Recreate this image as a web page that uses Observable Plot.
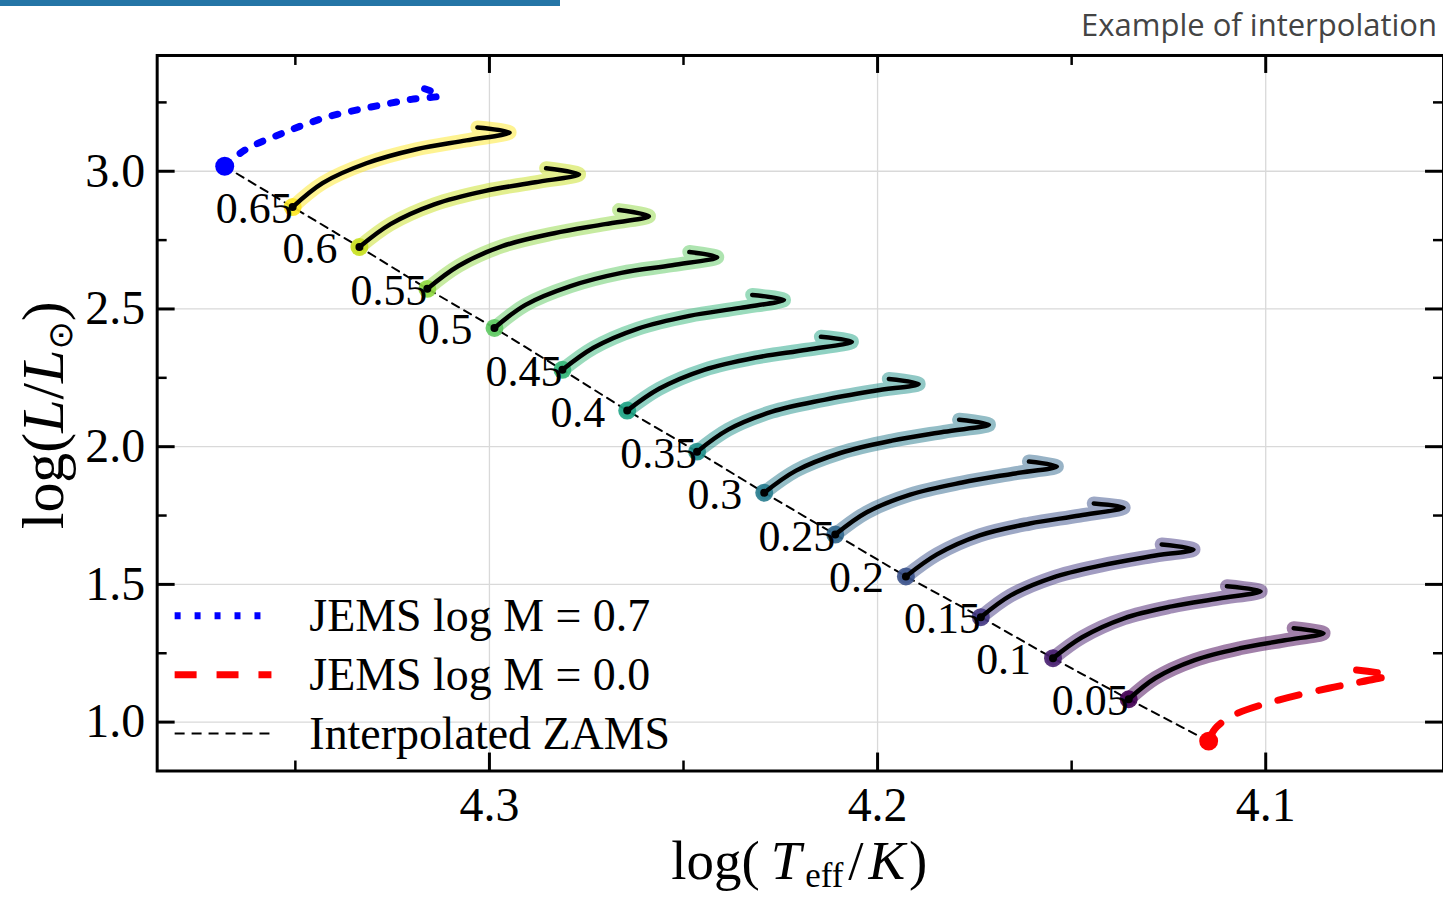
<!DOCTYPE html>
<html><head><meta charset="utf-8">
<script src="https://cdn.jsdelivr.net/npm/d3@7"></script>
<script src="https://cdn.jsdelivr.net/npm/@observablehq/plot@0.6"></script>
<style>
html,body{margin:0;padding:0;background:#fff;overflow:hidden;width:1443px;height:897px;}
#head{position:relative;height:50px;width:1443px;}
#bar{position:absolute;left:0;top:0;width:560px;height:6px;background:#2475a6;}
#title{position:absolute;right:6px;top:3px;font-family:"Open Sans";font-size:31px;color:#444;white-space:nowrap;}
#chart{width:1443px;overflow:hidden;}
</style></head><body>
<div id="head"><div id="bar"></div><div id="title">Example of interpolation</div></div>
<div id="chart"></div>
<script>
// ---- data ----
const masses = [0.65, 0.6, 0.55, 0.5, 0.45, 0.4, 0.35, 0.3, 0.25, 0.2, 0.15, 0.1, 0.05];
const massLabels = ["0.65","0.6","0.55","0.5","0.45","0.4","0.35","0.3","0.25","0.2","0.15","0.1","0.05"];
const trackTeff = [
  [4.3507, 4.3430, 4.3317, 4.3188, 4.3059, 4.2948, 4.3031],
  [4.3335, 4.3255, 4.3142, 4.3013, 4.2882, 4.2769, 4.2854],
  [4.3160, 4.3080, 4.2967, 4.2833, 4.2702, 4.2589, 4.2666],
  [4.2987, 4.2907, 4.2791, 4.2660, 4.2529, 4.2413, 4.2485],
  [4.2812, 4.2732, 4.2619, 4.2485, 4.2354, 4.2241, 4.2323],
  [4.2645, 4.2563, 4.2447, 4.2316, 4.2182, 4.2066, 4.2146],
  [4.2465, 4.2385, 4.2272, 4.2138, 4.2007, 4.1894, 4.1971],
  [4.2292, 4.2210, 4.2094, 4.1963, 4.1829, 4.1713, 4.1790],
  [4.2109, 4.2029, 4.1916, 4.1782, 4.1651, 4.1538, 4.1610],
  [4.1927, 4.1847, 4.1737, 4.1608, 4.1479, 4.1366, 4.1443],
  [4.1734, 4.1657, 4.1549, 4.1423, 4.1296, 4.1186, 4.1268],
  [4.1548, 4.1473, 4.1365, 4.1242, 4.1121, 4.1013, 4.1100],
  [4.1353, 4.1284, 4.1183, 4.1067, 4.0951, 4.0851, 4.0928]
];
const trackLum = [
  [2.870, 2.957, 3.029, 3.080, 3.112, 3.141, 3.159],
  [2.725, 2.808, 2.880, 2.928, 2.960, 2.989, 3.011],
  [2.573, 2.656, 2.728, 2.775, 2.808, 2.837, 2.859],
  [2.431, 2.515, 2.583, 2.631, 2.659, 2.688, 2.707],
  [2.279, 2.359, 2.428, 2.475, 2.504, 2.533, 2.551],
  [2.131, 2.210, 2.279, 2.323, 2.352, 2.381, 2.399],
  [1.982, 2.062, 2.127, 2.170, 2.203, 2.228, 2.246],
  [1.833, 1.913, 1.978, 2.022, 2.054, 2.080, 2.098],
  [1.681, 1.761, 1.826, 1.870, 1.902, 1.928, 1.946],
  [1.529, 1.609, 1.678, 1.721, 1.750, 1.779, 1.794],
  [1.381, 1.460, 1.525, 1.569, 1.602, 1.627, 1.645],
  [1.232, 1.308, 1.377, 1.420, 1.449, 1.475, 1.493],
  [1.083, 1.160, 1.225, 1.268, 1.297, 1.323, 1.341]
];
const jems07Teff = [4.3682, 4.3631, 4.3528, 4.3420, 4.3309, 4.3201, 4.3129, 4.3170];
const jems07Lum  = [3.018, 3.076, 3.141, 3.196, 3.232, 3.261, 3.275, 3.301];
const jems00Teff = [4.1147, 4.1131, 4.1082, 4.0967, 4.0838, 4.0735, 4.0683, 4.0766];
const jems00Lum  = [0.931, 0.975, 1.026, 1.080, 1.123, 1.152, 1.170, 1.189];
const xTicks = [4.3, 4.2, 4.1];
const xMinor = [4.35, 4.25, 4.15, 4.05];
const yTicks = [1.0, 1.5, 2.0, 2.5, 3.0];
const yMinor = [1.25, 1.75, 2.25, 2.75, 3.25];
const legendLabels = ["JEMS log M = 0.7", "JEMS log M = 0.0", "Interpolated ZAMS"];

// ---- tables ----
const trackRows = masses.flatMap((m, k) => trackTeff[k].map((t, i) => ({m, teff: t, lum: trackLum[k][i]})));
const starts = masses.map((m, k) => ({m, label: massLabels[k], teff: trackTeff[k][0], lum: trackLum[k][0]}));
const jems07 = jems07Teff.map((t, i) => ({teff: t, lum: jems07Lum[i]}));
const jems00 = jems00Teff.map((t, i) => ({teff: t, lum: jems00Lum[i]}));
const zams = [jems07[0], ...starts.map(d => ({teff: d.teff, lum: d.lum})), jems00[0]];

const W = 1446, H = 847, mT = 5, mB = 125, mL = 157, mR = 0;
const FW = W - mL - mR, FH = H - mT - mB;
const serif = "Liberation Serif";

const plot = Plot.plot({
  width: W, height: H,
  marginTop: mT, marginBottom: mB, marginLeft: mL, marginRight: mR,
  style: {fontFamily: serif, background: "white", overflow: "visible"},
  x: {domain: [4.3856, 4.0542]},
  y: {domain: [0.8225, 3.4203]},
  color: {type: "linear", scheme: "viridis", domain: [0.05, 0.65]},
  marks: [
    Plot.gridX(xTicks, {stroke: "#d9d9d9", strokeOpacity: 1, strokeWidth: 1.3}),
    Plot.gridY(yTicks, {stroke: "#d9d9d9", strokeOpacity: 1, strokeWidth: 1.3}),
    Plot.line(trackRows, {x: "teff", y: "lum", z: "m", stroke: "m", strokeWidth: 14, strokeOpacity: 0.5, curve: "catmull-rom", strokeLinecap: "round", strokeLinejoin: "round"}),
    Plot.line(zams, {x: "teff", y: "lum", stroke: "black", strokeWidth: 2, strokeDasharray: "8,6"}),
    Plot.line(jems07, {x: "teff", y: "lum", stroke: "#0000ff", strokeWidth: 7, strokeDasharray: "6,14", curve: "catmull-rom"}),
    Plot.line(jems00, {x: "teff", y: "lum", stroke: "#ff0000", strokeWidth: 7, strokeDasharray: "22,20", curve: "catmull-rom"}),
    Plot.dot(starts, {x: "teff", y: "lum", r: 9, fill: "m", fillOpacity: 0.9}),
    Plot.dot([jems07[0]], {x: "teff", y: "lum", r: 9.5, fill: "#0000ff"}),
    Plot.dot([jems00[0]], {x: "teff", y: "lum", r: 9.5, fill: "#ff0000"}),
    Plot.line(trackRows, {x: "teff", y: "lum", z: "m", stroke: "black", strokeWidth: 4.5, curve: "catmull-rom", strokeLinecap: "round", strokeLinejoin: "round"}),
    Plot.dot(starts, {x: "teff", y: "lum", r: 4, fill: "black"}),
    Plot.text(starts, {x: "teff", y: "lum", text: "label", textAnchor: "start", lineAnchor: "middle", dx: -77, dy: 2, fontSize: 44, fontFamily: serif, fill: "black"}),
    // ticks (inward)
    Plot.tickX(xTicks, {x: d => d, insetBottom: FH - 18, stroke: "black", strokeWidth: 3}),
    Plot.tickX(xTicks, {x: d => d, insetTop: FH - 18, stroke: "black", strokeWidth: 3}),
    Plot.tickX(xMinor, {x: d => d, insetBottom: FH - 10, stroke: "black", strokeWidth: 2.5}),
    Plot.tickX(xMinor, {x: d => d, insetTop: FH - 10, stroke: "black", strokeWidth: 2.5}),
    Plot.tickY(yTicks, {y: d => d, insetRight: FW - 18, stroke: "black", strokeWidth: 3}),
    Plot.tickY(yTicks, {y: d => d, insetLeft: FW - 18, stroke: "black", strokeWidth: 3}),
    Plot.tickY(yMinor, {y: d => d, insetRight: FW - 10, stroke: "black", strokeWidth: 2.5}),
    Plot.tickY(yMinor, {y: d => d, insetLeft: FW - 10, stroke: "black", strokeWidth: 2.5}),
    Plot.axisX(xTicks, {anchor: "bottom", tickSize: 0, tickPadding: 16, fontSize: 48, fontFamily: serif, tickFormat: d => d.toFixed(1), label: null}),
    Plot.axisY(yTicks, {anchor: "left", tickSize: 0, tickPadding: 12, fontSize: 48, fontFamily: serif, tickFormat: d => d.toFixed(1), label: null}),
    Plot.frame({stroke: "black", strokeWidth: 3})
  ]
});
document.getElementById("chart").appendChild(plot);

// ---- axis labels and legend ----
const svg = d3.select(plot);
const xl = svg.append("text").attr("x", 801).attr("y", 831)
  .attr("text-anchor", "middle").attr("font-family", serif).attr("font-size", 55).attr("fill", "black");
xl.append("tspan").text("log(\u2009");
xl.append("tspan").attr("font-style", "italic").text("T");
xl.append("tspan").attr("font-size", 35).attr("dy", 8).attr("dx", 4).text("eff");
xl.append("tspan").attr("dy", -8).attr("dx", 5).text("/");
xl.append("tspan").attr("font-style", "italic").attr("dx", 5).text("K");
xl.append("tspan").attr("dx", 4).text(")");

const yl = svg.append("text").attr("transform", "translate(63,366) rotate(-90)")
  .attr("text-anchor", "middle").attr("font-family", serif).attr("font-size", 60).attr("fill", "black");
yl.append("tspan").text("log(");
yl.append("tspan").attr("font-style", "italic").text("L");
yl.append("tspan").text("/");
yl.append("tspan").attr("font-style", "italic").text("L");
yl.append("tspan").attr("font-size", 34).attr("dy", 9).attr("font-family", "DejaVu Sans").text("\u2299");
yl.append("tspan").attr("dy", -9).text(")");

const lg = svg.append("g");
const legStyles = [
  {stroke: "#0000ff", w: 7, dash: "6,14", y: 567},
  {stroke: "#ff0000", w: 7, dash: "22,20", y: 626},
  {stroke: "black", w: 2, dash: "10,7", y: 685}
];
legStyles.forEach((s, i) => {
  lg.append("line").attr("x1", 175).attr("x2", 272).attr("y1", s.y).attr("y2", s.y)
    .attr("stroke", s.stroke).attr("stroke-width", s.w).attr("stroke-dasharray", s.dash);
  lg.append("text").attr("x", 310).attr("y", s.y + 15).attr("text-anchor", "start").attr("font-family", serif)
    .attr("font-size", 46).attr("fill", "black").text(legendLabels[i]);
});
</script>
</body></html>
